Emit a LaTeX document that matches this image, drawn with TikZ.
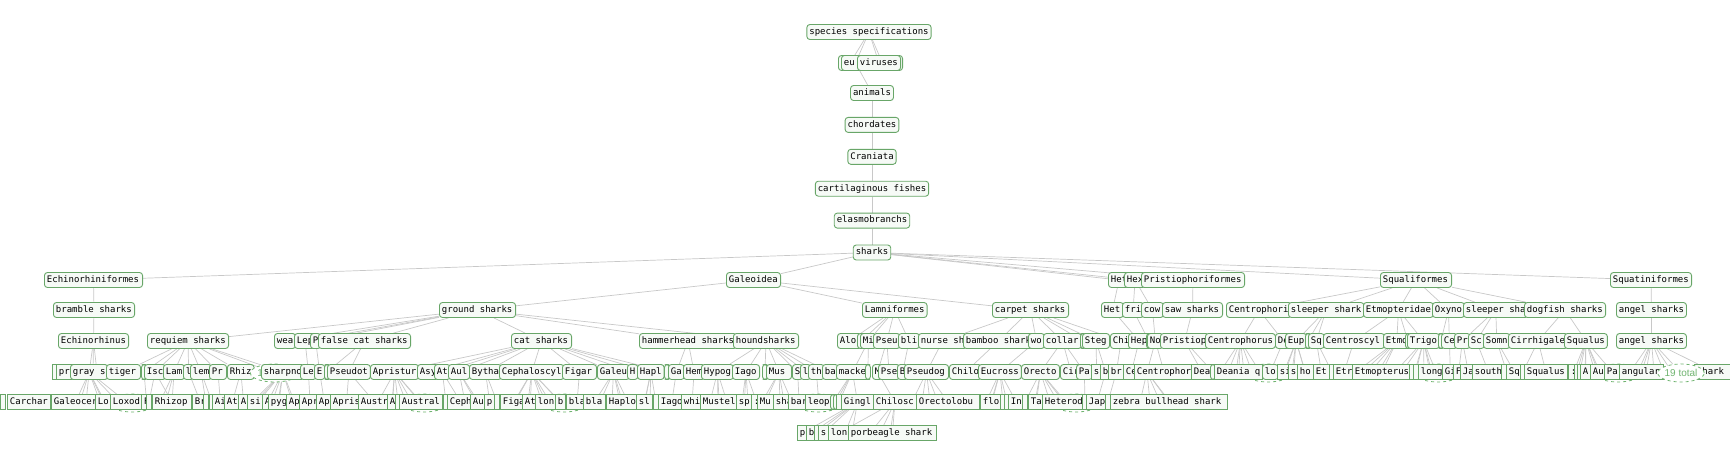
\documentclass[tikz,border=0pt]{standalone}
\usepackage{fontspec}
\setmonofont{DejaVu Sans Mono}
\newfontfamily\totalfont{Liberation Sans}
\usepackage{tikz}
\usetikzlibrary{positioning, backgrounds, shapes.geometric}

\definecolor{boxline}{RGB}{104,166,104}
\definecolor{boxfill}{RGB}{246,250,246}
\definecolor{edgegray}{RGB}{200,200,200}
\definecolor{totalgreen}{RGB}{112,180,112}

\newcommand\padtext[2]{\sbox0{#2}\ifdim\wd0<#1\makebox[#1][l]{#2}\else#2\fi}
\newcommand\taxrow[2]{%
  \foreach \nm/\l/\r/\t/\s in {#2} {\pgfmathsetmacro\w{max(\r-\l-5.9,0)}\node[\s, anchor=west] (\nm) at (\l,#1) {\padtext{\w pt}{\t}};}}

\begin{document}
\begin{tikzpicture}[
    x=1pt, y=-1pt,
    taxbox/.style={draw=boxline, fill=boxfill, line width=0.9pt, font=\ttfamily\fontsize{9pt}{10pt}\selectfont, minimum height=15pt, inner xsep=2.5pt, inner ysep=0pt, text height=6.6pt, text depth=1.9pt},
    groupbox/.style={taxbox, rounded corners=3pt},
    leafbox/.style={taxbox},
    totalbubble/.style={ellipse, draw=totalgreen, dashed, fill=white, line width=0.8pt, inner sep=0pt, minimum width=46pt, minimum height=18pt, text=totalgreen, font=\totalfont\fontsize{10pt}{12pt}\selectfont},
    edge/.style={draw=edgegray, line width=0.7pt}
]
\useasboundingbox (0,0) rectangle (1730,467);

\node[groupbox] (spec) at (869,32) {species specifications};
\taxrow{63}{v0/838/862/{}/groupbox, eu/841/870/eu/groupbox, vb/862/903/{}/groupbox, vir/857/901/viruses/groupbox}
\node[groupbox] (animals) at (872,93) {animals};
\node[groupbox, below=16pt of animals] (chordates) {chordates};
\node[groupbox, below=16pt of chordates] (craniata) {Craniata};
\node[groupbox, below=16pt of craniata] (cartfish) {cartilaginous fishes};
\node[groupbox, below=16pt of cartfish] (elasmo) {elasmobranchs};
\node[groupbox, below=16pt of elasmo] (sharks) {sharks};

\taxrow{280}{ech/44/143/Echinorhiniformes/groupbox, gal/726/781/Galeoidea/groupbox, hxa/1108/1128/Het/groupbox, hxb/1124/1143/Hex/groupbox, pri/1141/1245/Pristiophoriformes/groupbox, sqf/1380/1452/Squaliformes/groupbox, sqt/1610/1692/Squatiniformes/groupbox}

\taxrow{310}{bra/53/135/bramble sharks/groupbox, grd/439/516/ground sharks/groupbox, lam/862/927/Lamniformes/groupbox, car/992/1069/carpet sharks/groupbox, het/1101/1124/Het/groupbox, fri/1122/1143/fri/groupbox, cow/1141/1164/cow/groupbox, saw/1162/1223/saw sharks/groupbox, cnp/1226/1292/Centrophori/groupbox, slp/1288/1363/sleeper shark/groupbox, etm/1363/1432/Etmopteridae/groupbox, oxy/1432/1463/Oxyno/groupbox, slq/1463/1527/sleeper sha/groupbox, dog/1524/1606/dogfish sharks/groupbox, ang/1616/1686/angel sharks/groupbox}

\taxrow{341}{ecn/58/129/Echinorhinus/groupbox, req/147/229/requiem sharks/groupbox, wea/274/296/wea/groupbox, lep/294/312/Lep/groupbox, pp/310/320/P/groupbox, fcs/318/411/false cat sharks/groupbox, cat/511/572/cat sharks/groupbox, ham/639/737/hammerhead sharks/groupbox, hou/733/799/houndsharks/groupbox, alo/837/862/Alo/groupbox, mia/857/866/{}/groupbox, mib/860/876/Mi/groupbox, pse/873/898/Pseu/groupbox, bli/898/920/bli/groupbox, nur/918/965/nurse sh/groupbox, bam/963/1028/bamboo shark/groupbox, wo/1028/1045/wo/groupbox, col/1043/1082/collar/groupbox, cb/1080/1084/{}/groupbox, stg/1082/1110/Steg/groupbox, chi/1110/1128/Chi/groupbox, hep/1128/1146/Hep/groupbox, hb/1146/1150/{}/groupbox, nos/1147/1162/No/groupbox, prs/1160/1207/Pristiop/groupbox, cph/1205/1275/Centrophorus/groupbox, de/1275/1287/De/groupbox, eup/1285/1307/Eup/groupbox, eb/1305/1310/{}/groupbox, sq/1308/1324/Sq/groupbox, csc/1323/1385/Centroscyl/groupbox, emo/1383/1409/Etmo/groupbox, tb/1405/1409/{}/groupbox, tri/1407/1440/Trigo/groupbox, tc/1438/1442/{}/groupbox, ce/1441/1456/Ce/groupbox, pr/1454/1469/Pr/groupbox, sc/1468/1484/Sc/groupbox, som/1483/1510/Somn/groupbox, cir/1508/1566/Cirrhigale/groupbox, squ/1564/1607/Squalus/groupbox, ang2/1616/1686/angel sharks/groupbox}

\node[totalbubble] (hid1) at (1268,373) {};
\node[totalbubble] (hid2) at (1438,373) {};
\node[totalbubble] (hid3) at (1618,373) {};
\taxrow{372}{k1/52/57/{}/leafbox, prk/56/70/pr/leafbox, gry/70/106/gray s/groupbox, tig/106/141/tiger/groupbox, pa1/141/145/{}/groupbox, isc/144/163/Isc/groupbox, lmn/163/183/Lam/groupbox, ll/183/190/l/groupbox, lem/190/209/lem/groupbox, prn/209/227/Pr/groupbox, rhz/227/252/Rhiz/groupbox}
\node[totalbubble, anchor=west] (one) at (250,373) {\makebox[34pt][l]{1}};
\taxrow{372}{shp/261/300/sharpno/groupbox, le/300/314/Le/groupbox, ee/314/324/E/groupbox, eb2/324/328/{}/groupbox, pst/327/370/Pseudot/groupbox, apr/370/417/Apristur/groupbox, asy/417/434/Asy/groupbox, atl/434/448/At/groupbox, aul/448/469/Aul/groupbox, byt/469/499/Bytha/groupbox, cep/499/562/Cephaloscyl/groupbox, fig/562/597/Figar/groupbox, glu/597/627/Galeu/groupbox, hh/627/637/H/groupbox, hap/637/664/Hapl/groupbox, hc/664/668/{}/groupbox, ga/668/683/Ga/groupbox, hem/683/701/Hem/groupbox, hyp/701/732/Hypog/groupbox, iag/732/760/Iago/groupbox, ic/762/766/{}/groupbox, mus/766/792/Mus/groupbox, ss/792/800/S/groupbox, l2/800/808/l/groupbox, th/808/822/th/groupbox, ba/822/836/ba/groupbox, mck/836/865/macke/groupbox, mc/865/870/{}/groupbox, mm/872/880/M/groupbox, pse2/878/897/Pse/groupbox, bb/897/905/B/groupbox, psg/904/949/Pseudog/groupbox, chl/949/978/Chilo/groupbox, euc/978/1021/Eucross/groupbox, ore/1021/1060/Orecto/groupbox, ci/1060/1076/Cir/groupbox, pa/1076/1091/Pa/groupbox, s1/1091/1100/s/leafbox, b1/1100/1108/b/leafbox, br/1108/1123/br/leafbox, ce1/1123/1134/Ce/leafbox, hd/1134/1160/{}/groupbox, cen/1134/1191/Centrophor/leafbox, dea/1191/1210/Dea/leafbox, dd/1210/1214/{}/groupbox, dnq/1214/1262/Deania q/leafbox, lo/1262/1276/lo/groupbox, si/1277/1288/si/leafbox, s2/1288/1297/s/leafbox, ho/1297/1313/ho/leafbox, et/1313/1329/Et/leafbox, eb3/1329/1333/{}/leafbox, etr/1333/1352/Etr/leafbox, etp/1352/1409/Etmopterus/leafbox, cl/1409/1413/:/leafbox, cm/1413/1418/{}/leafbox, lng/1418/1442/long/leafbox, gi/1442/1453/Gi/leafbox, ff/1453/1460/F/leafbox, ja/1460/1472/Ja/leafbox, sou/1472/1501/south/leafbox, ex/1501/1506/!/leafbox, sq2/1506/1520/Sq/leafbox, sb/1520/1524/{}/leafbox, sql/1524/1568/Squalus/leafbox, cl2/1568/1574/:/leafbox, sc1/1574/1577/{}/leafbox, sc2/1577/1580/{}/leafbox, aa/1580/1590/A/leafbox, au/1590/1604/Au/leafbox, pa2/1604/1619/Pa/leafbox, agl/1619/1664/angular/leafbox, shk/1694/1734/shark/leafbox}
\node[totalbubble] (tot19) at (1681,373) {19 total};

\node[totalbubble] (hid4) at (132,403) {};
\node[totalbubble] (hid5) at (424,403) {};
\node[totalbubble] (hid6) at (564,403) {};
\node[totalbubble] (hid7) at (818,403) {};
\node[totalbubble] (hid8) at (1076,403) {};
\taxrow{402}{z0/0/5/{}/leafbox, car1/7/51/Carchar/leafbox, gal1/51/95/Galeocer/leafbox, lo1/95/110/Lo/leafbox, lox/110/141/Loxod/leafbox, f1/141/146/F/leafbox, f2/146/152/{}/leafbox, rhp/152/192/Rhizop/leafbox, br1/192/203/Br/leafbox, vb1/203/208/{}/leafbox, bx1/209/212/{}/leafbox, ai/212/224/Ai/leafbox, at1/224/238/At/leafbox, a1/238/247/A/leafbox, si1/247/262/si/leafbox, a2/262/268/A/leafbox, pyg/268/286/pyg/leafbox, ap/286/299/Ap/leafbox, apr1/299/315/Apr/leafbox, ap2/316/328/Ap/leafbox, apris/330/358/Apris/leafbox, austr/358/387/Austr/leafbox, a3/387/395/A/leafbox, ab/395/399/{}/leafbox, austl/399/443/Austral/leafbox, cb1/443/447/{}/leafbox, ceph/447/470/Ceph/leafbox, au1/470/484/Au/leafbox, pp1/484/494/p/leafbox, pb/494/500/{}/leafbox, figa/500/522/Figa/leafbox, at2/522/535/At/leafbox, lon/535/555/lon/leafbox, b2/555/564/b/leafbox, bla/566/583/bla/leafbox, bla2/583/606/bla/leafbox, hpl/606/636/Haplo/leafbox, sl/636/653/sl/leafbox, sb1/653/658/{}/leafbox, iag1/658/681/Iago/leafbox, whi/681/700/whi/leafbox, mst/700/736/Mustel/leafbox, sp/736/751/sp/leafbox, spb/751/757/:/leafbox, mu/757/773/Mu/leafbox, sha/773/788/sha/leafbox, bar/788/805/bar/leafbox, leo/805/830/leop/leafbox, lb1/830/834/{}/groupbox, lb2/833/837/{}/groupbox, lb3/836/841/{}/leafbox, gng/841/873/Gingl/leafbox, chs/873/916/Chilosc/leafbox, orb/916/980/Orectolobu/leafbox, flo/980/1000/flo/leafbox, fb1/1000/1004/{}/leafbox, fb2/1004/1008/{}/leafbox, inn/1008/1022/In/leafbox, ib1/1022/1028/{}/leafbox, ta/1028/1042/Ta/leafbox, htd/1042/1082/Heterod/leafbox, hb2/1082/1086/{}/leafbox, jap/1086/1105/Jap/leafbox, jb/1105/1110/{}/leafbox, zeb/1110/1228/zebra bullhead shark/leafbox}

\taxrow{433}{p13/797/806/p/leafbox, b13/806/814/b/leafbox, v13/814/818/{}/leafbox, s13/818/828/s/leafbox, lon13/828/848/lon/leafbox, porb/848/937/porbeagle shark/leafbox}

\begin{scope}[on background layer]
\foreach \a/\b in {spec/v0, spec/eu, spec/vb, spec/vir, eu/animals, animals/chordates, chordates/craniata, craniata/cartfish, cartfish/elasmo, elasmo/sharks,
  sharks/ech, sharks/gal, sharks/hxa, sharks/hxb, sharks/pri, sharks/sqf, sharks/sqt,
  ech/bra, gal/grd, gal/lam, gal/car, hxa/het, hxb/fri, hxb/cow, pri/saw, sqf/cnp, sqf/slp, sqf/etm, sqf/oxy, sqf/slq, sqf/dog, sqt/ang,
  bra/ecn, grd/req, grd/wea, grd/lep, grd/pp, grd/fcs, grd/cat, grd/ham, grd/hou, lam/alo, lam/mia, lam/mib, lam/pse, lam/bli, car/nur, car/bam, car/wo, car/col, car/cb, car/stg, car/chi, het/hep, fri/hb, cow/nos, saw/prs, cnp/cph, cnp/de, slp/eup, slp/eb, slp/sq, etm/csc, etm/emo, etm/tb, etm/tri, oxy/tc, oxy/ce, slq/pr, slq/sc, slq/som, dog/cir, dog/squ, ang/ang2,
  ecn/gry, req/tig, req/pa1, req/isc, req/lmn, req/ll, req/lem, req/prn, req/rhz, req/one, req/shp, lep/le, pp/ee, fcs/eb2, fcs/pst, cat/apr, cat/asy, cat/atl, cat/aul, cat/byt, cat/cep, cat/fig, cat/glu, cat/hh, cat/hap, cat/hc, ham/ga, ham/hem, hou/hyp, hou/iag, hou/ic, hou/mus, hou/ss, hou/l2, hou/th, hou/ba, mib/mck, mib/mc, pse/mm, pse/pse2, bli/bb, nur/psg, bam/chl, wo/euc, col/ore, col/ci, col/pa, stg/s1, stg/b1, chi/br, hep/ce1, nos/hd, nos/cen, prs/dea, prs/dd, cph/dnq, de/lo, eup/si, eup/s2, eup/ho, sq/et, sq/eb3, csc/etr, emo/etp, tri/cl, tri/cm, tri/lng, ce/gi, pr/ff, pr/ja, sc/sou, som/ex, som/sq2, cir/sb, cir/sql, squ/cl2, squ/sc1, squ/sc2, squ/aa, squ/au, squ/pa2, ang2/agl, ang2/tot19, ang2/shk,
  gry/gal1, gry/lo1, gry/lox, pa1/f1, isc/f2, isc/rhp, ll/br1, lem/vb1, lem/bx1, prn/ai, rhz/at1, rhz/a1, shp/si1, shp/a2, shp/pyg, shp/ap, le/apr1, ee/ap2, pst/apris, pst/austr, apr/a3, apr/ab, apr/austl, atl/cb1, atl/ceph, aul/au1, byt/pp1, byt/pb, cep/figa, cep/at2, cep/lon, cep/b2, fig/bla, glu/bla2, glu/hpl, hap/sl, hap/sb1, ga/iag1, hem/whi, hyp/mst, iag/sp, iag/spb, mus/mu, mus/sha, ss/bar, th/leo, mck/lb1, mck/lb2, mck/lb3, mck/gng, mm/chs, psg/orb, euc/flo, euc/fb1, euc/fb2, euc/inn, ore/ib1, ore/ta, ore/htd, pa/hb2, b1/jap, br/jb, hd/zeb,
  gng/p13, gng/b13, gng/v13, gng/s13, chs/lon13, chs/porb}
  \draw[edge] (\a) -- (\b);
\foreach \a/\x/\y [count=\i] in {ecn/93/372, ecn/97/372, gry/80/402, gry/86/402, gry/100/402, gry/105/402, gry/118/402, lmn/160/402, lmn/166/402, lmn/172/402,
  shp/252/402, shp/258/402, shp/272/402, shp/278/402, shp/292/402, apr/378/402, apr/392/402, apr/406/402, apr/412/402, apr/420/402, aul/465/402, aul/476/402,
  cep/515/402, cep/528/402, cep/542/402, cep/550/402, cep/560/402, glu/600/402, glu/612/402, glu/620/402, glu/628/402, hap/645/402, hap/650/402,
  hyp/710/402, hyp/718/402, hyp/727/402, iag/742/402, iag/748/402, mus/762/402, mus/780/402, mus/792/402, psg/912/402, psg/922/402, psg/930/402, psg/938/402,
  euc/986/402, euc/992/402, ore/1035/402, ore/1050/402, ore/1058/402, ore/1066/402, hd/1140/402, hd/1150/402, hd/1160/402, hd/1170/402,
  cph/1220/372, cph/1228/372, cph/1236/372, cph/1244/372, cph/1252/372, cph/1260/372, eup/1284/372, eup/1292/372, eup/1305/372,
  emo/1356/372, emo/1363/372, emo/1370/372, emo/1378/372, tri/1395/372, tri/1402/372, tri/1424/372, tri/1430/372, tri/1436/372,
  squ/1585/372, squ/1595/372, squ/1600/372, ang2/1630/372, ang2/1638/372, ang2/1646/372, ang2/1654/372, ang2/1664/372, ang2/1672/372,
  gng/845/433, gng/852/433, chs/870/433, chs/880/433, chs/890/433}
  {\coordinate (tip\i) at (\x,\y); \draw[edge] (\a) -- (tip\i);}
\end{scope}
\end{tikzpicture}
\end{document}
